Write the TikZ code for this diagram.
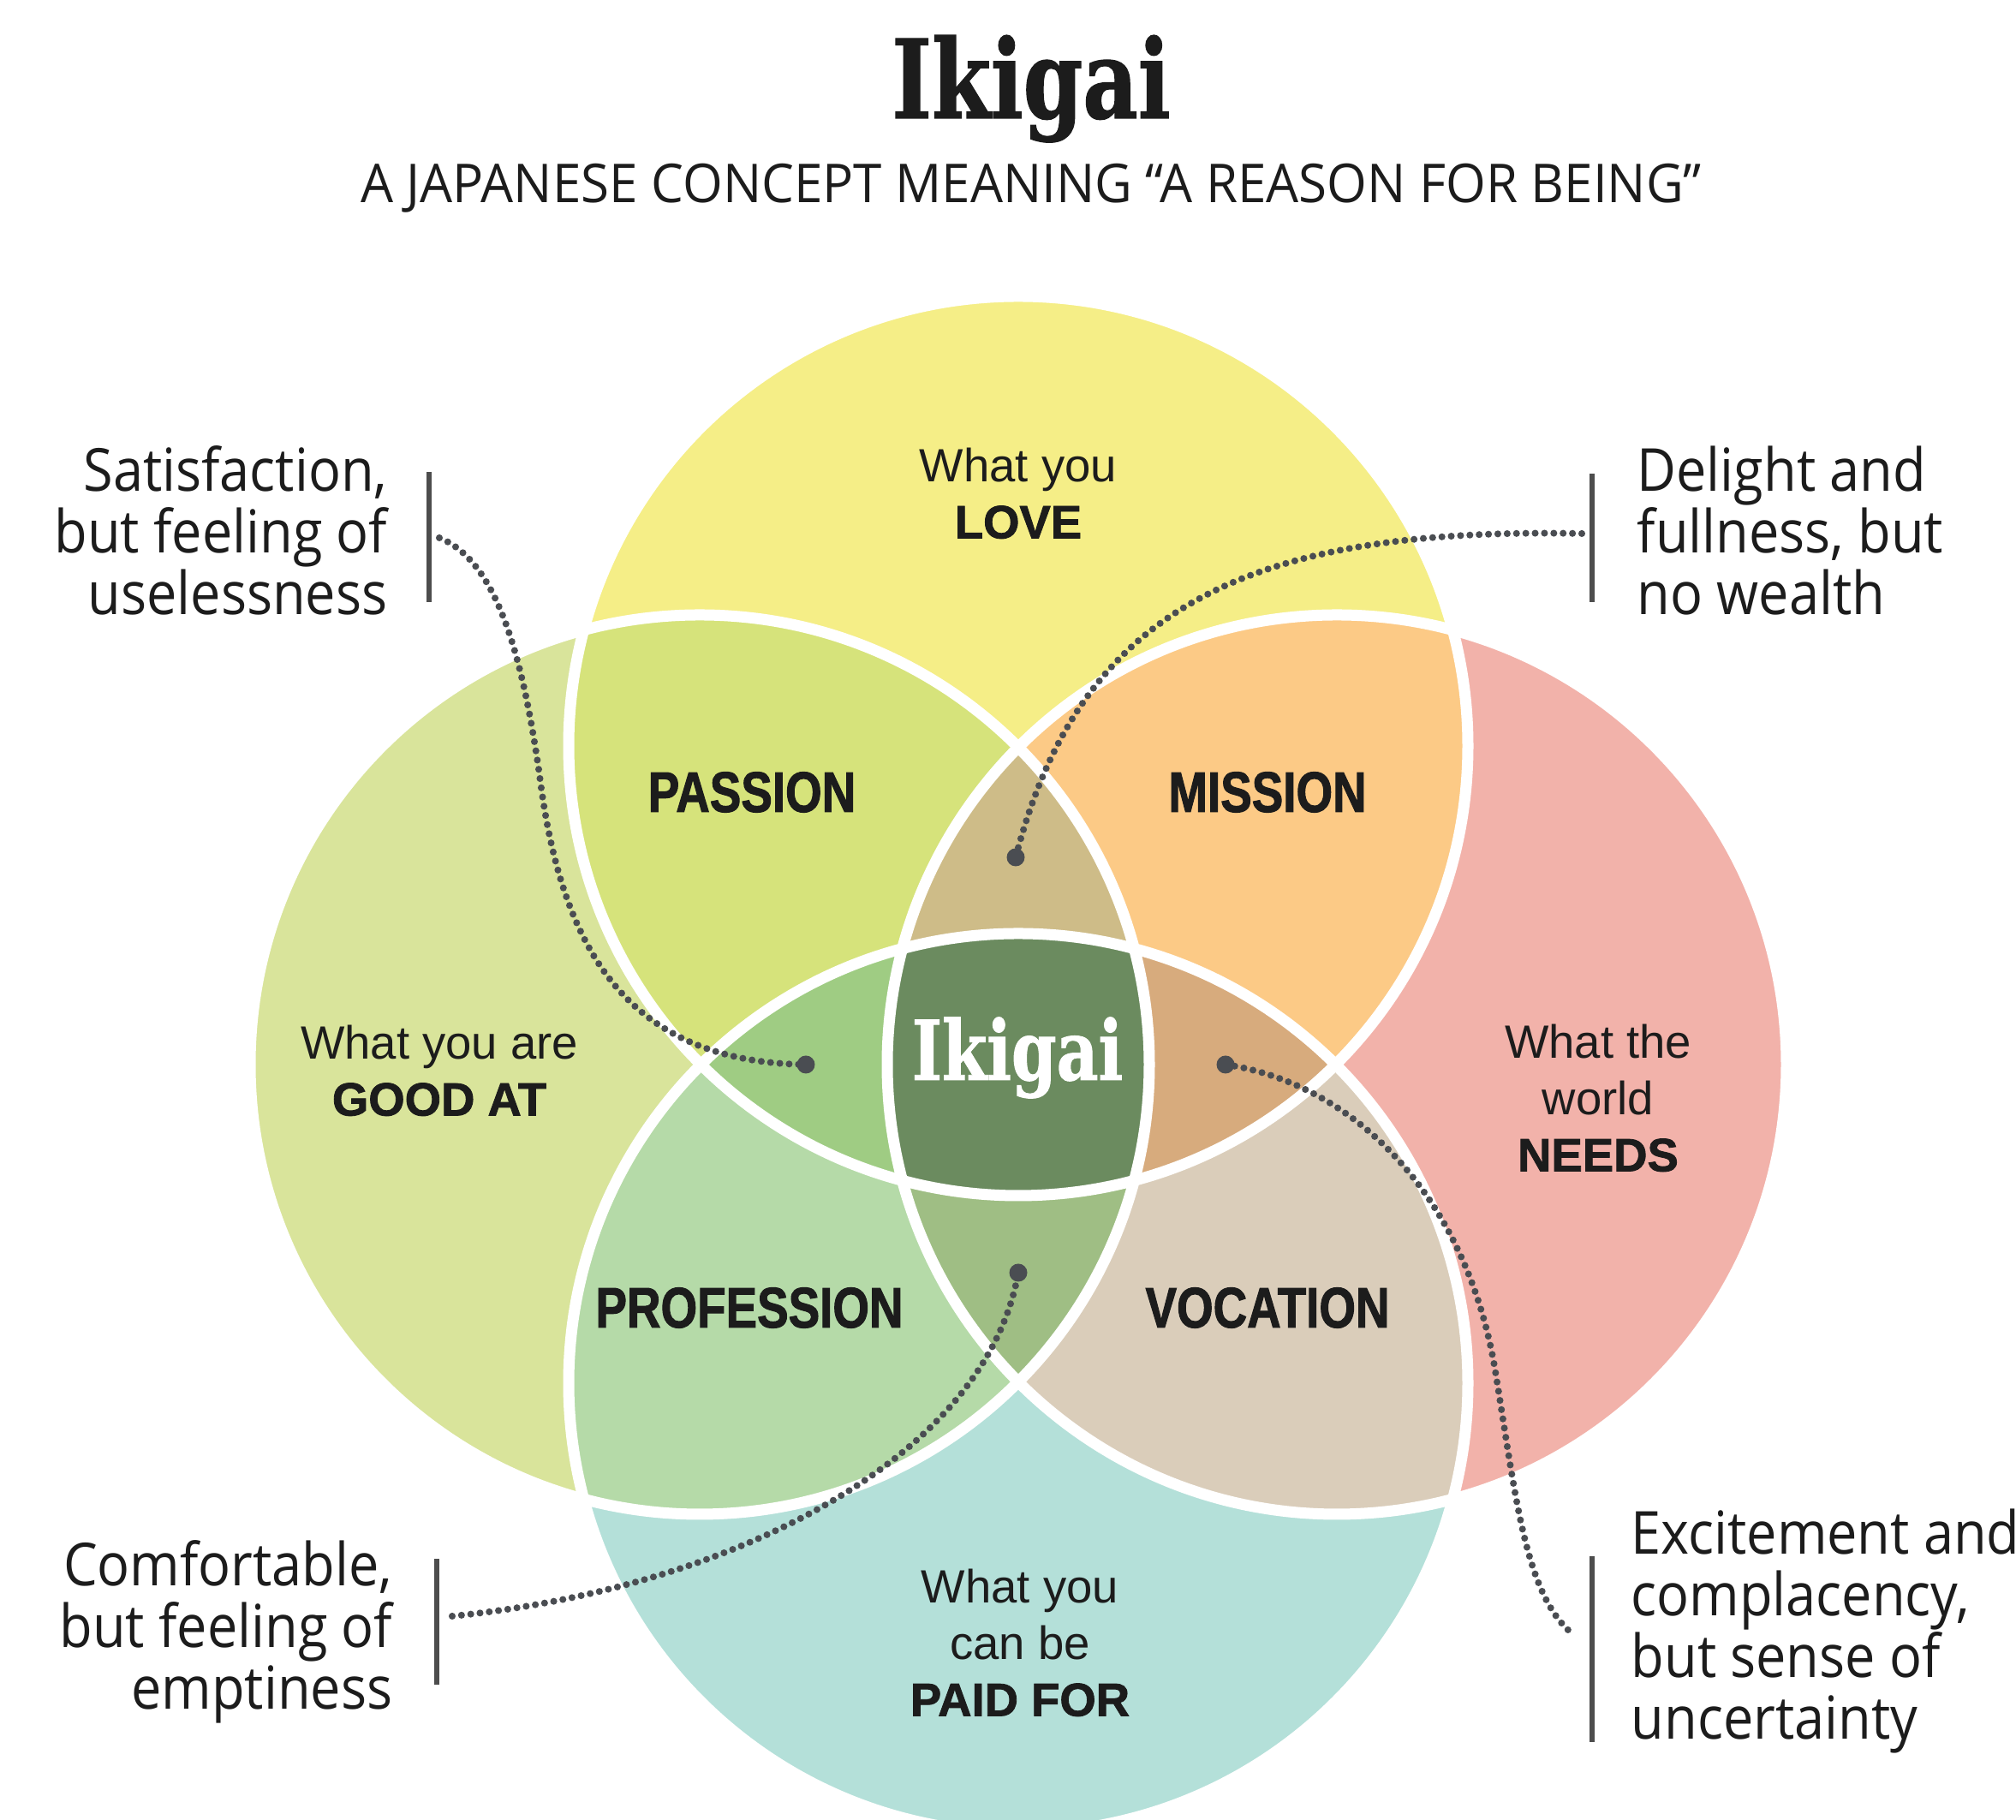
\documentclass[tikz,border=0pt]{standalone}
\usepackage{fontspec}
\setmainfont{Liberation Sans}[BoldFeatures={FakeBold=1.5}]
\newfontfamily\titlefont{DejaVu Serif}[FakeStretch=0.78, FakeBold=1]
\newfontfamily\notefont{Open Sans}[FakeStretch=0.91]
\newfontfamily\capsfont{Open Sans}[FakeStretch=0.96]
\newfontfamily\heavyfont{Liberation Sans}[FakeStretch=0.82, BoldFeatures={FakeBold=1.5}]
\usetikzlibrary{positioning}

\definecolor{lovecol}{HTML}{F5EE87}
\definecolor{goodcol}{HTML}{D9E49B}
\definecolor{needscol}{HTML}{F2B2AA}
\definecolor{paidcol}{HTML}{B4E0D9}
\definecolor{passioncol}{HTML}{D6E37B}
\definecolor{missioncol}{HTML}{FCCA86}
\definecolor{professioncol}{HTML}{B5DAA8}
\definecolor{vocationcol}{HTML}{DACDBA}
\definecolor{upcol}{HTML}{CEBC88}
\definecolor{leftcol}{HTML}{9FCC83}
\definecolor{rightcol}{HTML}{D7AB7D}
\definecolor{downcol}{HTML}{9FBE84}
\definecolor{corecol}{HTML}{6B8B5F}
\definecolor{inkcol}{HTML}{1C1C1C}
\definecolor{dotcol}{HTML}{4A4D52}
\definecolor{barcol}{HTML}{4D4D4D}

\newcommand{\ringrad}{5.25}

\tikzset{
  region/.style={align=center, text=inkcol, font=\fontsize{15.5}{18.8}\selectfont},
  heavy/.style={text=inkcol, font=\heavyfont\bfseries\fontsize{19}{22}\selectfont},
  note/.style={text=inkcol, inner sep=0pt, font=\notefont\fontsize{19.7}{20.5}\selectfont},
  dotline/.style={draw=dotcol, line width=2.3pt, line cap=round, dash pattern=on 0pt off 3.1pt},
  bar/.style={draw=barcol, line width=1.7pt},
  rim/.style={draw=white, line width=3.7pt}
}

\begin{document}
\begin{tikzpicture}
\useasboundingbox (0,0) rectangle (23.54,21.25);
\fill[white] (0,0) rectangle (23.54,21.25);

\coordinate (cl) at (11.89,12.54);
\coordinate (cg) at (8.17,8.82);
\coordinate (cn) at (15.61,8.82);
\coordinate (cp) at (11.89,5.10);

% the four circles
\fill[lovecol] (cl) circle[radius=\ringrad];
\fill[goodcol] (cg) circle[radius=\ringrad];
\fill[needscol] (cn) circle[radius=\ringrad];
\fill[paidcol] (cp) circle[radius=\ringrad];

% pairs
\begin{scope}
\clip (cl) circle[radius=\ringrad];
\fill[passioncol] (cg) circle[radius=\ringrad];
\fill[missioncol] (cn) circle[radius=\ringrad];
\end{scope}
\begin{scope}
\clip (cp) circle[radius=\ringrad];
\fill[professioncol] (cg) circle[radius=\ringrad];
\fill[vocationcol] (cn) circle[radius=\ringrad];
\end{scope}

% triples
\begin{scope}
\clip (cl) circle[radius=\ringrad];
\clip (cg) circle[radius=\ringrad];
\fill[upcol] (cn) circle[radius=\ringrad];
\fill[leftcol] (cp) circle[radius=\ringrad];
\end{scope}
\begin{scope}
\clip (cp) circle[radius=\ringrad];
\clip (cn) circle[radius=\ringrad];
\fill[rightcol] (cl) circle[radius=\ringrad];
\fill[downcol] (cg) circle[radius=\ringrad];
\end{scope}
\begin{scope}
\clip (cl) circle[radius=\ringrad];
\clip (cg) circle[radius=\ringrad];
\clip (cn) circle[radius=\ringrad];
\fill[corecol] (cp) circle[radius=\ringrad];
\end{scope}

\foreach \c in {cl,cg,cn,cp}
  \draw[rim] (\c) circle[radius=\ringrad];

% titles
\node[anchor=base, inner sep=0pt, text=inkcol, font=\titlefont\bfseries\fontsize{36.3}{40}\selectfont] (title) at (12.04,19.87) {Ikigai};
\node[anchor=base, inner sep=0pt, text=inkcol, font=\capsfont\fontsize{17.8}{20}\selectfont] (subtitle) at (12.04,18.88) {A JAPANESE CONCEPT MEANING “A REASON FOR BEING”};

% circle labels
\node[region] (love) at (11.89,15.49) {What you\\\textbf{LOVE}};
\node[region] (good) at (5.13,8.75) {What you are\\\textbf{GOOD AT}};
\node[region] (needs) at (18.66,8.43) {What the\\world\\\textbf{NEEDS}};
\node[region] (paid) at (11.91,2.07) {What you\\can be\\\textbf{PAID FOR}};

\node[heavy] (passion) at (8.78,12.00) {PASSION};
\node[heavy] (mission) at (14.80,12.00) {MISSION};
\node[heavy] (profession) at (8.75,5.98) {PROFESSION};
\node[heavy] (vocation) at (14.80,5.98) {VOCATION};

\node[anchor=base, inner sep=0pt, text=white, font=\titlefont\bfseries\fontsize{27.5}{30}\selectfont] (core) at (11.88,8.64) {Ikigai};

% side notes
\node[note, anchor=north east, align=right] (satisfy) at (4.53,16.05) {Satisfaction,\\but feeling of\\uselessness};
\node[note, anchor=north west, align=left] (delight) at (19.11,16.05) {Delight and\\fullness, but\\no wealth};
\node[note, anchor=north east, align=right] (comfort) at (4.59,3.27) {Comfortable,\\but feeling of\\emptiness};
\node[note, anchor=north west, align=left] (excite) at (19.04,3.64) {Excitement and\\complacency,\\but sense of\\uncertainty};

\coordinate (satisfytop) at (5.01,15.74);
\coordinate (satisfybot) at (5.01,14.22);
\coordinate (delighttop) at (18.59,15.72);
\coordinate (delightbot) at (18.59,14.22);
\coordinate (comforttop) at (5.10,3.05);
\coordinate (comfortbot) at (5.10,1.58);
\coordinate (excitetop) at (18.59,3.08);
\coordinate (excitebot) at (18.59,0.91);
\draw[bar] (satisfytop) -- (satisfybot);
\draw[bar] (delighttop) -- (delightbot);
\draw[bar] (comforttop) -- (comfortbot);
\draw[bar] (excitetop) -- (excitebot);

% dotted leaders
\coordinate (dotleft) at (9.41,8.82);
\coordinate (dotup) at (11.86,11.24);
\coordinate (dotdown) at (11.89,6.39);
\coordinate (dotright) at (14.31,8.82);
\coordinate (satisfyend) at (5.13,14.97);
\coordinate (delightend) at (18.47,15.02);
\coordinate (comfortend) at (5.28,2.38);
\coordinate (exciteend) at (18.39,2.15);

\draw[dotline] (satisfyend) .. controls (5.8,14.7) and (6.1,13.6) .. (6.3,12.2)
  .. controls (6.55,10.2) and (7.3,8.85) .. (dotleft);
\draw[dotline] (delightend) .. controls (14.5,15.1) and (12.6,14.1) .. (dotup);
\draw[dotline] (comfortend) .. controls (8.5,2.7) and (11.5,4.2) .. (dotdown);
\draw[dotline] (dotright) .. controls (15.8,8.6) and (17.1,7.3) .. (17.45,5.3)
  .. controls (17.7,3.8) and (17.8,2.6) .. (exciteend);

\foreach \d in {dotleft,dotup,dotdown,dotright}
  \fill[dotcol] (\d) circle[radius=0.105];
\end{tikzpicture}
\end{document}
